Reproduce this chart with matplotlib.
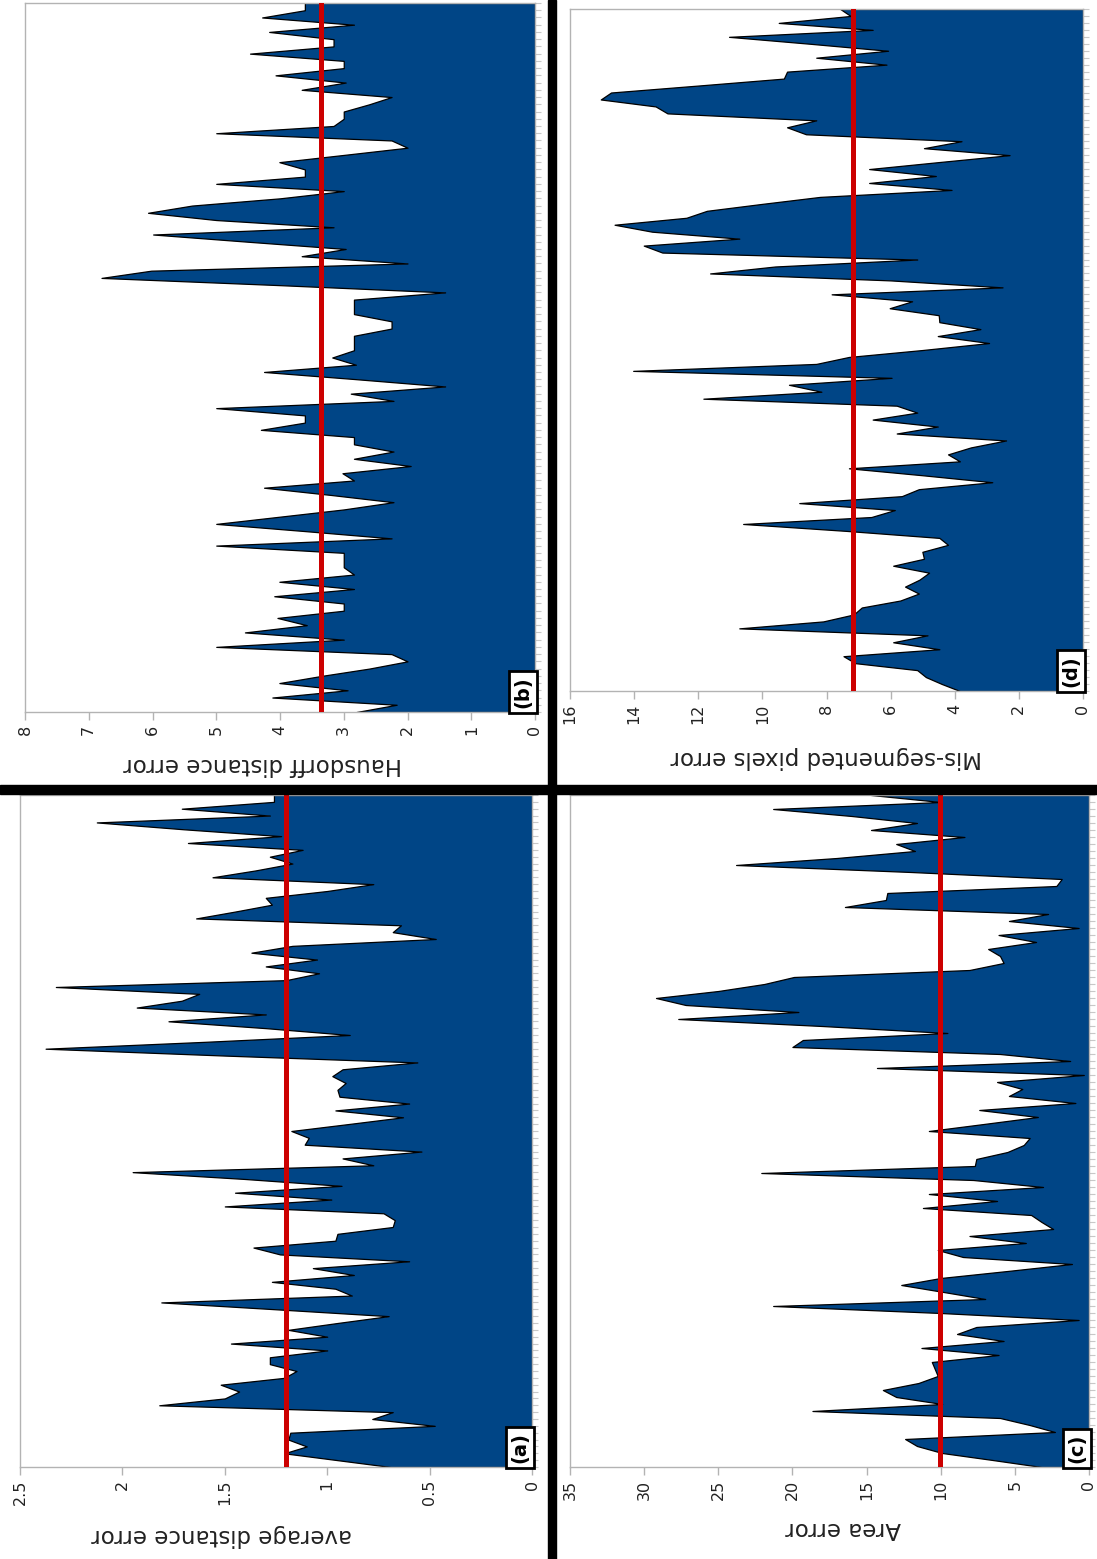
import matplotlib
matplotlib.use("Agg")
import matplotlib.pyplot as plt
from matplotlib.patches import Rectangle
import numpy as np

plt.rcParams['font.family'] = ['DejaVu Sans']

# ---------------- data (index 0 = bottom of each panel) ----------------
avg_dist = [0.69, 0.95, 1.21, 1.1, 1.19, 1.18, 0.475, 0.78, 0.68, 1.82,
            1.5, 1.43, 1.52, 1.21, 1.15, 1.28, 1.28, 1.0, 1.47, 1.0,
            1.19, 0.95, 0.7, 1.25, 1.81, 0.88, 0.96, 1.27, 0.87, 1.07,
            0.6, 1.23, 1.36, 0.96, 0.95, 0.68, 0.67, 0.725, 1.5, 0.98,
            1.45, 0.93, 1.4, 1.95, 0.775, 0.925, 0.54, 1.11, 1.09, 1.175,
            0.9, 0.63, 0.96, 0.6, 0.94, 0.95, 0.91, 0.975, 0.925, 0.56,
            1.5, 2.375, 1.6, 0.89, 1.3, 1.775, 1.3, 1.93, 1.71, 1.625,
            2.325, 1.2, 1.04, 1.3, 1.05, 1.37, 1.17, 0.47, 0.68, 0.64,
            1.64, 1.45, 1.27, 1.3, 1.0, 0.775, 1.56, 1.35, 1.17, 1.28,
            1.12, 1.68, 1.225, 1.7, 2.125, 1.28, 1.71, 1.26, 1.26]

hausdorff = [2.8, 2.17, 4.12, 2.94, 4.01, 3.34, 2.6, 2.0, 2.25, 5.0,
             3.0, 4.55, 3.58, 4.04, 3.0, 3.0, 4.09, 2.84, 4.01, 2.84,
             3.0, 3.0, 3.0, 5.0, 2.25, 3.6, 5.0, 4.0, 3.0, 2.22,
             3.2, 4.25, 2.84, 3.02, 1.95, 2.84, 2.22, 2.84, 2.84, 4.3,
             3.61, 3.61, 5.0, 2.22, 2.89, 1.41, 2.8, 4.25, 2.81, 3.18,
             2.84, 2.84, 2.84, 2.25, 2.25, 2.84, 2.84, 2.84, 1.41, 4.0,
             6.8, 6.02, 2.0, 3.66, 2.97, 4.5, 5.99, 3.16, 5.0, 6.07,
             5.38, 4.0, 3.0, 5.0, 3.61, 3.61, 4.01, 3.0, 2.0, 2.25,
             5.0, 3.16, 3.0, 3.0, 2.6, 2.25, 3.66, 2.97, 4.07, 3.0,
             3.0, 4.47, 3.16, 3.16, 4.17, 2.84, 4.28, 3.61, 3.61]

area_err = [3.2, 6.5, 9.9, 11.6, 12.4, 2.3, 4.0, 6.0, 18.65, 9.9,
            13.0, 13.9, 11.5, 10.2, 10.4, 10.6, 6.1, 11.3, 5.76, 8.9,
            7.6, 0.7, 10.0, 21.3, 7.0, 9.8, 12.66, 10.0, 5.5, 1.15,
            8.5, 10.2, 4.26, 8.06, 2.42, 3.2, 3.9, 11.2, 6.2, 10.8,
            3.1, 7.8, 22.1, 7.7, 7.6, 5.5, 4.4, 4.0, 10.8, 7.1,
            3.45, 7.4, 0.92, 5.4, 4.5, 6.2, 0.35, 14.3, 1.27, 6.0,
            20.0, 19.3, 9.55, 18.0, 27.7, 19.6, 27.2, 29.2, 25.0, 21.9,
            19.9, 8.06, 5.76, 6.0, 6.8, 3.57, 6.1, 0.7, 5.4, 2.76,
            16.46, 13.7, 13.6, 2.2, 1.84, 12.0, 23.8, 17.0, 11.74, 13.0,
            8.4, 14.7, 11.6, 16.0, 21.3, 10.0, 14.7]

misseg = [3.84, 4.4, 4.9, 5.17, 7.1, 7.47, 4.48, 5.92, 4.85, 10.72,
          8.1, 7.15, 6.9, 5.7, 5.12, 5.55, 5.1, 4.8, 5.92, 4.96,
          5.01, 4.21, 4.48, 7.36, 10.6, 6.6, 5.87, 8.85, 5.65, 5.12,
          2.83, 5.0, 7.3, 3.84, 4.21, 3.5, 2.4, 5.81, 4.53, 6.56,
          5.17, 5.81, 11.84, 8.16, 9.17, 5.97, 14.03, 8.32, 7.3, 5.0,
          2.93, 4.53, 3.2, 4.48, 4.5, 6.03, 5.33, 7.84, 2.51, 6.0,
          11.63, 9.6, 5.17, 13.12, 13.7, 10.72, 13.44, 14.61, 12.37, 11.73,
          10.0, 8.2, 4.1, 6.67, 4.59, 6.67, 4.5, 2.29, 4.96, 3.79,
          8.64, 9.23, 8.32, 12.96, 13.33, 15.04, 14.72, 12.0, 9.33, 9.23,
          6.13, 8.32, 6.08, 8.5, 11.04, 6.56, 9.49, 7.25, 7.57]

mean_avg_dist = 1.2
mean_hausdorff = 3.35
mean_area = 10.05
mean_misseg = 7.18

ticks_avg = [0, 0.5, 1, 1.5, 2, 2.5]
ticks_haus = [0, 1, 2, 3, 4, 5, 6, 7, 8]
ticks_area = [0, 5, 10, 15, 20, 25, 30, 35]
ticks_mis = [0, 2, 4, 6, 8, 10, 12, 14, 16]

labels = ["average distance error", "Hausdorff distance error",
          "Area error", "Mis-segmented pixels error"]
tags = ["(a)", "(b)", "(c)", "(d)"]

# ---------------- figure ----------------
W, H = 1097, 1559
fig = plt.figure(figsize=(W / 100, H / 100), dpi=100)

def rect(x0, y0, x1, y1):
    return [x0 / W, 1 - y1 / H, (x1 - x0) / W, (y1 - y0) / H]

FILL = '#004586'
RED = '#cc0000'
GREY = '#b3b3b3'

def panel(box, values, mean, ticks, label, tag, labelpad, labelx):
    ax = fig.add_axes(box)
    idx = np.arange(len(values))
    vals = np.array(values)
    ax.fill_betweenx(idx, vals, 0, facecolor=FILL, edgecolor='black',
                     linewidth=0.9, zorder=2)
    ax.axvline(mean, color=RED, lw=3.6, zorder=3)
    ax.set_xlim(ticks[-1], 0)
    ax.set_ylim(0, len(values) - 1)
    ax.set_xticks(ticks)
    ax.set_xticklabels([('%g' % t) for t in ticks], rotation=90,
                       fontsize=11.5, color='#222222')
    ax.tick_params(axis='x', length=6, color=GREY, width=1, pad=3)
    ax.yaxis.tick_right()
    ax.set_yticks(idx)
    ax.set_yticklabels([])
    ax.tick_params(axis='y', length=4, color='#c8c8c8', width=0.8)
    for s in ax.spines.values():
        s.set_color(GREY)
        s.set_linewidth(1.0)
    ax.set_xlabel(label, rotation=180, fontsize=16.5, labelpad=labelpad,
                  color='#222222')
    ax.xaxis.label.set_x(labelx)
    ax.text(0.995, 0.006, tag, transform=ax.transAxes, rotation=90,
            ha='right', va='bottom', fontsize=14, fontweight='bold',
            zorder=5,
            bbox=dict(boxstyle='square,pad=0.25', fc='white', ec='black',
                      lw=2))
    return ax

panel(rect(25, 3, 535, 712), hausdorff, mean_hausdorff, ticks_haus, labels[1], tags[1], 13, 0.465)
panel(rect(570, 9, 1083, 691), misseg, mean_misseg, ticks_mis, labels[3], tags[3], 16, 0.5)
panel(rect(20, 795, 532, 1467), avg_dist, mean_avg_dist, ticks_avg, labels[0], tags[0], 14, 0.393)
panel(rect(570, 795, 1089, 1467), area_err, mean_area, ticks_area, labels[2], tags[2], 12, 0.526)

# black separator cross
fig.add_artist(Rectangle((548 / W, 0), 8 / W, 1, transform=fig.transFigure,
                         color='black', zorder=10))
fig.add_artist(Rectangle((0, 1 - 794 / H), 1, 9 / H, transform=fig.transFigure,
                         color='black', zorder=10))

fig.savefig("out.png", dpi=100)
